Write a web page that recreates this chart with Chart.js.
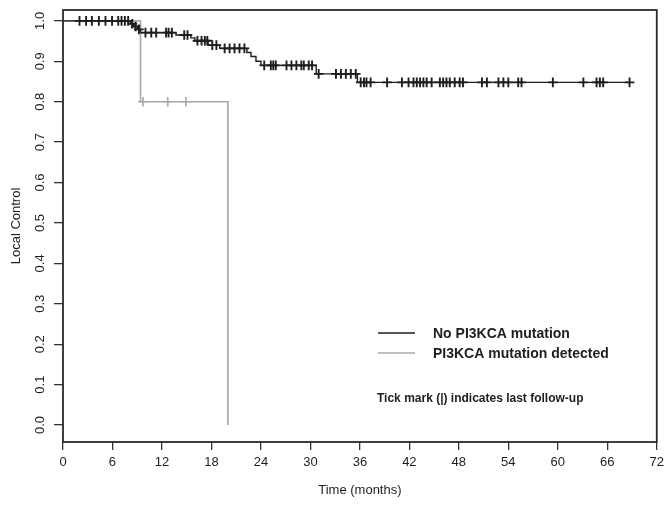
<!DOCTYPE html>
<html>
<head>
<meta charset="utf-8">
<script src="https://cdn.jsdelivr.net/npm/chart.js@4/dist/chart.umd.min.js"></script>
<style>
  html, body { margin: 0; padding: 0; background: #fff; }
</style>
</head>
<body>
<canvas id="km" width="669" height="509"></canvas>
<script>
// axis ticks
const xTicks = [0, 6, 12, 18, 24, 30, 36, 42, 48, 54, 60, 66, 72];
const yTicks = [0, 0.1, 0.2, 0.3, 0.4, 0.5, 0.6, 0.7, 0.8, 0.9, 1.0];
const yTickLabels = ['0.0', '0.1', '0.2', '0.3', '0.4', '0.5', '0.6', '0.7', '0.8', '0.9', '1.0'];

const seriesLabels = ['No PI3KCA mutation', 'PI3KCA mutation detected'];

// no mutation: step times (months) and survival after each step
const noMutTimes = [0, 8.2, 8.6, 9.0, 9.4, 13.7, 15.5, 16.0, 17.6, 19.0, 22.3, 22.8, 23.4, 24.0, 30.7, 35.7, 68.7];
const noMutSurv = [1.0, 0.993, 0.986, 0.979, 0.971, 0.965, 0.958, 0.951, 0.940, 0.932, 0.922, 0.912, 0.900, 0.890, 0.869, 0.848, 0.848];
const noMutCensored = [2.0, 2.8, 3.5, 4.35, 5.15, 5.95, 6.7, 7.1, 7.5, 7.9, 8.4, 8.8, 9.2,
  10.0, 10.7, 11.3, 12.5, 12.8, 13.2, 14.7, 15.1, 16.3, 16.8, 17.2, 17.5, 18.1, 18.6,
  19.6, 20.2, 20.8, 21.4, 22.0, 24.4, 25.2, 25.5, 25.8, 27.1, 27.7, 28.3, 28.9, 29.2,
  29.8, 30.2, 31.0, 33.1, 33.7, 34.3, 34.9, 35.5, 36.1, 36.5, 36.8, 37.3, 39.3, 41.1,
  41.9, 42.5, 42.9, 43.3, 43.7, 44.1, 44.7, 45.7, 46.1, 46.5, 46.9, 47.5, 48.1, 48.5,
  50.8, 51.4, 52.8, 53.4, 54.0, 55.2, 55.6, 59.4, 63.1, 64.7, 65.1, 65.5, 68.7];

// PI3KCA mutation detected
const mutTimes = [0, 9.4, 20.0];
const mutSurv = [1.0, 0.8, 0.0];
const mutCensored = [9.7, 12.7, 14.9];

function survAt(times, surv, t) {
  let s = surv[0];
  for (let i = 0; i < times.length; i++) {
    if (times[i] <= t) s = surv[i];
  }
  return s;
}

const toPoints = (times, surv) => times.map((t, i) => ({ x: t, y: surv[i] }));
const toMarks = (cens, times, surv) => cens.map(t => ({ x: t, y: survAt(times, surv, t) }));

const FONT = 'Liberation Sans, Arial, sans-serif';
const INK = '#1e1e1e';
const GREY = '#ababab';

const framePlugin = {
  id: 'frame',
  afterDraw(chart) {
    const { ctx, chartArea: a, scales } = chart;
    ctx.save();
    ctx.strokeStyle = '#2a2a2a';
    ctx.lineWidth = 1.8;
    ctx.strokeRect(a.left, a.top, a.right - a.left, a.bottom - a.top);

    // rotated y tick labels (R style)
    ctx.fillStyle = INK;
    ctx.font = '13px ' + FONT;
    ctx.textAlign = 'center';
    ctx.textBaseline = 'middle';
    yTicks.forEach((v, i) => {
      const y = scales.y.getPixelForValue(v);
      ctx.save();
      ctx.translate(40, y);
      ctx.rotate(-Math.PI / 2);
      ctx.fillText(yTickLabels[i], 0, 0);
      ctx.restore();
    });

    // legend
    ctx.lineWidth = 1.6;
    [INK, GREY].forEach((c, i) => {
      const y = 333 + i * 20;
      ctx.strokeStyle = c;
      ctx.beginPath();
      ctx.moveTo(378, y);
      ctx.lineTo(415, y);
      ctx.stroke();
      ctx.fillStyle = INK;
      ctx.font = 'bold 14px ' + FONT;
      ctx.textAlign = 'left';
      ctx.fillText(seriesLabels[i], 433, y + 1);
    });
    ctx.font = 'bold 12px ' + FONT;
    ctx.fillText('Tick mark (|) indicates last follow-up', 377, 399);
    ctx.restore();
  }
};

new Chart(document.getElementById('km'), {
  type: 'line',
  data: {
    datasets: [
      {
        label: seriesLabels[0],
        data: toPoints(noMutTimes, noMutSurv),
        stepped: 'before',
        borderColor: INK,
        borderWidth: 1.4,
        pointRadius: 0,
        order: 2
      },
      {
        label: seriesLabels[0] + ' censored',
        data: toMarks(noMutCensored, noMutTimes, noMutSurv),
        showLine: false,
        pointStyle: 'cross',
        pointRadius: 4.8,
        borderColor: INK,
        borderWidth: 1.9,
        order: 1
      },
      {
        label: seriesLabels[1],
        data: toPoints(mutTimes, mutSurv),
        stepped: 'before',
        borderColor: GREY,
        borderWidth: 1.7,
        pointRadius: 0,
        order: 4
      },
      {
        label: seriesLabels[1] + ' censored',
        data: toMarks(mutCensored, mutTimes, mutSurv),
        showLine: false,
        pointStyle: 'cross',
        pointRadius: 4.8,
        borderColor: GREY,
        borderWidth: 1.7,
        order: 3
      }
    ]
  },
  options: {
    responsive: false,
    animation: false,
    devicePixelRatio: 1,
    layout: { padding: { top: 10, right: 11, left: 0, bottom: 0 } },
    plugins: {
      legend: { display: false },
      tooltip: { enabled: false }
    },
    scales: {
      x: {
        type: 'linear',
        min: 0,
        max: 72,
        afterBuildTicks: s => { s.ticks = xTicks.map(v => ({ value: v })); },
        afterFit: s => { s.height = 67; },
        border: { display: false },
        grid: { drawOnChartArea: false, tickLength: 8, color: '#333', lineWidth: 1.3 },
        ticks: { color: INK, font: { family: FONT, size: 13 }, padding: 5, maxRotation: 0 },
        title: { display: true, text: 'Time (months)', color: INK, font: { family: FONT, size: 13 }, padding: { top: 0, bottom: 11 } }
      },
      y: {
        min: -0.042,
        max: 1.027,
        afterBuildTicks: s => { s.ticks = yTicks.map(v => ({ value: v })); },
        afterFit: s => { s.width = 63; },
        border: { display: false },
        grid: { drawOnChartArea: false, tickLength: 9, color: '#333', lineWidth: 1.3 },
        ticks: { display: false },
        title: { display: true, text: 'Local Control', color: INK, font: { family: FONT, size: 13 }, padding: { top: 9, bottom: 0 } }
      }
    }
  },
  plugins: [framePlugin]
});
</script>
</body>
</html>
